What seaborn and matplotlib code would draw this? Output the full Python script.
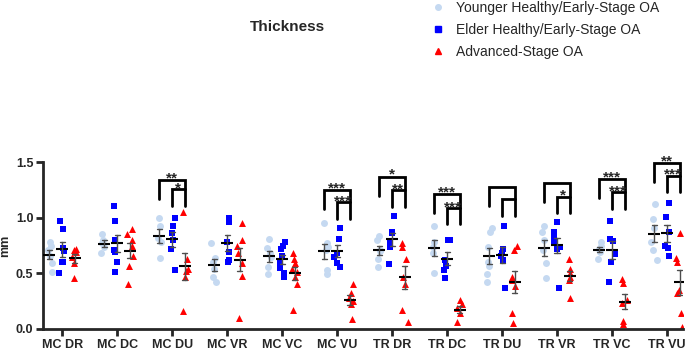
import numpy as np
import pandas as pd
import matplotlib
matplotlib.use("Agg")
import matplotlib.pyplot as plt
import seaborn as sns
from matplotlib.lines import Line2D

np.random.seed(3)

# Categories and groups
sites = ["MC DR", "MC DC", "MC DU", "MC VR", "MC VC", "MC VU",
         "TR DR", "TR DC", "TR DU", "TR VR", "TR VC", "TR VU"]
groups = ["Younger Healthy/Early-Stage OA", "Elder Healthy/Early-Stage OA", "Advanced-Stage OA"]

# Thickness values (mm), one list per site
younger = [
    [0.78, 0.75, 0.71, 0.66, 0.59, 0.51],
    [0.85, 0.80, 0.77, 0.74, 0.68],
    [1.00, 0.93, 0.82, 0.78, 0.64],
    [0.77, 0.64, 0.60, 0.54, 0.47, 0.42],
    [0.81, 0.73, 0.68, 0.65, 0.56, 0.49],
    [0.95, 0.77, 0.74, 0.71, 0.53, 0.49],
    [0.84, 0.80, 0.71, 0.70, 0.63, 0.56],
    [0.93, 0.78, 0.74, 0.68, 0.50],
    [0.91, 0.87, 0.74, 0.60, 0.57, 0.49, 0.42],
    [0.93, 0.87, 0.80, 0.71, 0.59, 0.46],
    [0.78, 0.75, 0.72, 0.69, 0.63],
    [1.12, 0.99, 0.91, 0.78, 0.71, 0.62],
]
elder = [
    [0.97, 0.90, 0.73, 0.70, 0.60, 0.60, 0.50],
    [1.11, 0.97, 0.80, 0.71, 0.69, 0.60, 0.51],
    [1.00, 0.93, 0.86, 0.80, 0.72, 0.53],
    [1.00, 0.96, 0.78, 0.69, 0.62, 0.60],
    [0.78, 0.75, 0.72, 0.66, 0.59, 0.55, 0.50, 0.47],
    [0.91, 0.81, 0.68, 0.65, 0.59, 0.56],
    [1.02, 0.87, 0.86, 0.77, 0.74, 0.58],
    [0.80, 0.80, 0.62, 0.57, 0.53, 0.46],
    [0.93, 0.72, 0.68, 0.66, 0.62, 0.37],
    [0.96, 0.87, 0.82, 0.78, 0.74, 0.72, 0.37],
    [0.97, 0.81, 0.79, 0.67, 0.60, 0.42],
    [1.13, 1.01, 0.87, 0.75, 0.73, 0.66],
]
advanced = [
    [0.72, 0.71, 0.69, 0.65, 0.59, 0.46],
    [0.90, 0.85, 0.80, 0.75, 0.66, 0.57, 0.40],
    [1.05, 0.63, 0.54, 0.52, 0.47, 0.16],
    [0.95, 0.80, 0.75, 0.68, 0.59, 0.48, 0.10],
    [0.68, 0.63, 0.59, 0.54, 0.51, 0.47, 0.40, 0.17],
    [0.40, 0.32, 0.28, 0.25, 0.22, 0.09],
    [0.77, 0.74, 0.63, 0.47, 0.40, 0.17, 0.06],
    [0.26, 0.22, 0.19, 0.14, 0.06],
    [0.75, 0.71, 0.47, 0.44, 0.39, 0.14, 0.05],
    [0.63, 0.54, 0.50, 0.47, 0.44, 0.28],
    [0.45, 0.41, 0.26, 0.23, 0.07, 0.04],
    [0.86, 0.64, 0.60, 0.35, 0.32, 0.14, 0.02],
]

# Significance brackets: site, outer bracket height, inner bracket height, labels
sig_sites = ["MC DU", "MC VU", "TR DR", "TR DC", "TR DU", "TR VR", "TR VC", "TR VU"]
sig_outer_y = [1.34, 1.25, 1.37, 1.21, 1.28, 1.31, 1.35, 1.49]
sig_inner_y = [1.26, 1.14, 1.25, 1.09, 1.165, 1.19, 1.23, 1.38]
sig_outer_lab = ["**", "***", "*", "***", "", "", "***", "**"]
sig_inner_lab = ["*", "***", "**", "***", "", "*", "***", "***"]

colors = ["#c5d9f1", "#0000ff", "#ff0000"]
markers = ["o", "s", "^"]
offset = 0.23

# long table
rows = []
for g_i, (g, vals) in enumerate(zip(groups, [younger, elder, advanced])):
    for s_i, s in enumerate(sites):
        for v in vals[s_i]:
            rows.append({"site": s, "group": g, "mm": v, "pos": s_i + (g_i - 1) * offset})
df = pd.DataFrame(rows)

sns.set_style("ticks")
plt.rcParams["font.family"] = ["Liberation Sans", "DejaVu Sans"]

fig = plt.figure(figsize=(6.85, 3.51), dpi=100)
ax = fig.add_axes([0.063, 0.063, 0.934, 0.475])

# individual points with a little horizontal spread
for g, c, m in zip(groups, colors, markers):
    sns.stripplot(data=df[df["group"] == g], x="pos", y="mm", native_scale=True, jitter=0.06,
                  color=c, marker=m, size=5, linewidth=0, ax=ax, zorder=2)

# mean +/- SEM
sns.pointplot(data=df, x="pos", y="mm", native_scale=True, errorbar="se",
              linestyle="none", marker="_", markersize=9, markeredgewidth=1.5,
              capsize=0.4, color="black", err_kws={"linewidth": 1, "color": "0.3"},
              ax=ax, zorder=3)

# significance brackets
for s, yo, yi, lo, li in zip(sig_sites, sig_outer_y, sig_inner_y, sig_outer_lab, sig_inner_lab):
    c = sites.index(s)
    x0, xm, x1 = c - offset, c, c + offset
    ax.plot([x0, x0, x1, x1], [yo - 0.17, yo, yo, yi - 0.15], color="black", lw=2,
            clip_on=False, solid_joinstyle="miter")
    ax.plot([xm, xm, x1], [yi - 0.15, yi, yi], color="black", lw=2,
            clip_on=False, solid_joinstyle="miter")
    if lo:
        ax.text((x0 + x1) / 2, yo - 0.02, lo, ha="center", va="baseline", fontsize=11,
                fontweight="bold", clip_on=False)
    if li:
        ax.text((xm + x1) / 2, yi - 0.03, li, ha="center", va="baseline", fontsize=11,
                fontweight="bold", clip_on=False)

ax.set_xlim(-0.345, 11.29)
ax.set_ylim(0, 1.5)
ax.set_xticks(range(len(sites)))
ax.set_xticklabels(sites, fontsize=9, fontweight="bold")
ax.set_yticks([0, 0.5, 1.0, 1.5])
ax.set_yticklabels(["0.0", "0.5", "1.0", "1.5"], fontsize=9, fontweight="bold")
ax.set_xlabel("")
ax.set_ylabel("mm", fontsize=9, fontweight="bold")
ax.yaxis.set_label_coords(-0.05, 0.5)
ax.tick_params(width=2, length=5, pad=2)
sns.despine(ax=ax)
for sp in ["left", "bottom"]:
    ax.spines[sp].set_linewidth(2)

fig.text(0.419, 0.923, "Thickness", ha="center", va="center", fontsize=11, fontweight="bold")

handles = [Line2D([], [], linestyle="none", marker=m, color=c, markersize=4) for m, c in zip(markers, colors)]
fig.legend(handles, groups, loc="center left", bbox_to_anchor=(0.617, 0.915), frameon=False,
           fontsize=10, labelspacing=0.6, handlelength=1.2, handletextpad=0.7, borderpad=0)

fig.savefig("out.png", dpi=100)
